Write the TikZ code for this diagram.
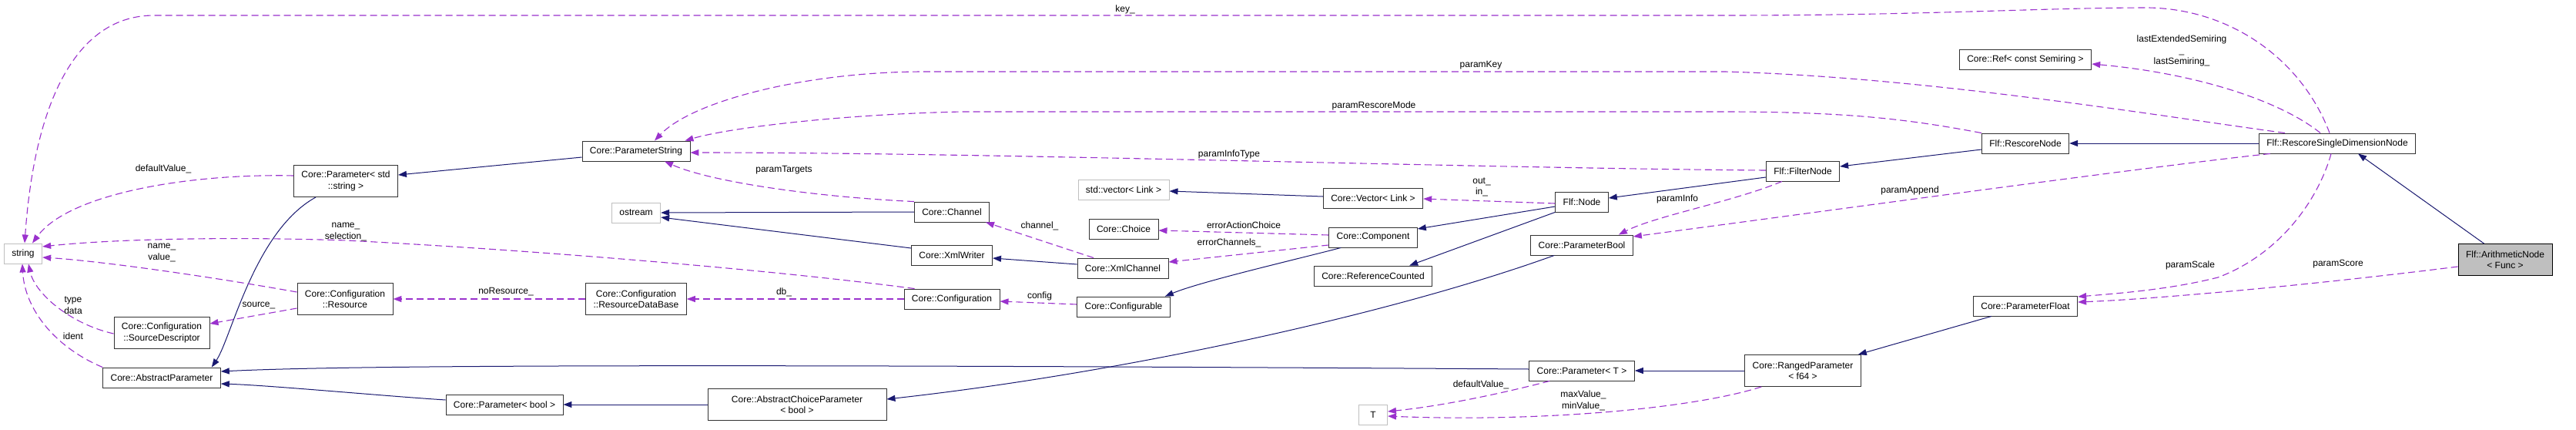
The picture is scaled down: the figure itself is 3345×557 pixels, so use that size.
\documentclass[tikz,border=0pt]{standalone}
\usepackage{fontspec}
\usepackage{tikz}
\usetikzlibrary{arrows.meta}
\newfontfamily\dxfam{Liberation Sans}
\newcommand{\dxfont}{\dxfam\fontsize{12}{14.5}\selectfont}
\definecolor{edgeblue}{HTML}{191970}
\definecolor{edgeorchid}{HTML}{9A32CD}
\definecolor{boxgray}{HTML}{BFBFBF}
\tikzset{
  cls/.style={draw=black!80, line width=0.9pt, fill=white, font=\dxfont, inner xsep=10pt, inner ysep=2pt, minimum height=26pt, align=center},
  extcls/.style={cls, draw=boxgray},
  twoline/.style={minimum height=41pt},
  inherit/.style={edgeblue, line width=1pt, -{Triangle[length=11pt,width=8pt]}},
  member/.style={edgeorchid, line width=1.1pt, dash pattern=on 9pt off 5pt, -{Triangle[length=11pt,width=8pt]}},
  elabel/.style={font=\dxfont, align=center, inner sep=0pt}
}

\begin{document}
\begin{tikzpicture}[x=1pt, y=-1pt]
  \fill[white] (0,0) rectangle (3345,557);
  \useasboundingbox (0,0) rectangle (3345,557);

  % classes
  \node[extcls] (str) at (30,329) {string};
  \node[cls, twoline] (pstr) at (449,235) {Core::Parameter< std\\::string >};
  \node[cls] (absp) at (210,490) {Core::AbstractParameter};
  \node[cls, twoline] (srcd) at (210,432) {Core::Configuration\\::SourceDescriptor};
  \node[cls, twoline] (res) at (448,388) {Core::Configuration\\::Resource};
  \node[cls] (pstring) at (826,196) {Core::ParameterString};
  \node[extcls] (ostr) at (826,276) {ostream};
  \node[cls, twoline] (rdb) at (826,388) {Core::Configuration\\::ResourceDataBase};
  \node[cls] (pbool) at (655,525) {Core::Parameter< bool >};
  \node[cls, twoline, minimum width=232pt] (acp) at (1035,525) {Core::AbstractChoiceParameter\\< bool >};
  \node[cls] (chan) at (1236,275) {Core::Channel};
  \node[cls] (xw) at (1236,331) {Core::XmlWriter};
  \node[cls] (xch) at (1458,348) {Core::XmlChannel};
  \node[cls] (conf) at (1236,388) {Core::Configuration};
  \node[cls] (cfgb) at (1459,398) {Core::Configurable};
  \node[cls] (choice) at (1459,297) {Core::Choice};
  \node[extcls] (svec) at (1459,246) {std::vector< Link >};
  \node[cls] (cvec) at (1783,257) {Core::Vector< Link >};
  \node[cls] (comp) at (1783,308) {Core::Component};
  \node[cls] (refc) at (1783,358) {Core::ReferenceCounted};
  \node[cls] (fnode) at (2054,262) {Flf::Node};
  \node[cls] (parbool) at (2054,318) {Core::ParameterBool};
  \node[cls] (paramT) at (2054,481) {Core::Parameter< T >};
  \node[extcls, minimum width=37pt] (tT) at (1783,538) {T};
  \node[cls] (filt) at (2341,222) {Flf::FilterNode};
  \node[cls] (resc) at (2630,186) {Flf::RescoreNode};
  \node[cls] (sref) at (2630,77) {Core::Ref< const Semiring >};
  \node[cls, twoline] (ranged) at (2341,481) {Core::RangedParameter\\< f64 >};
  \node[cls] (pfloat) at (2630,397) {Core::ParameterFloat};
  \node[cls] (rsdn) at (3035,186) {Flf::RescoreSingleDimensionNode};
  \node[cls, twoline, fill=boxgray, draw=black] (arith) at (3253,337) {Flf::ArithmeticNode\\< Func >};

  % inheritance
  \draw[inherit] ([yshift=-8pt]pstring.west) -- ([yshift=8pt]pstr.east);
  \draw[inherit] ([xshift=29pt]pstr.south west) .. controls (330,300) and (300,440) .. ([xshift=-12pt]absp.north east);
  \draw[inherit] ([yshift=2pt]paramT.west) .. controls (900,472) and (450,474) .. ([yshift=8pt]absp.east);
  \draw[inherit] ([yshift=6pt]pbool.west) .. controls (500,514) and (350,500) .. ([yshift=-8pt]absp.east);
  \draw[inherit] (acp.west) -- (pbool.east);
  \draw[inherit] ([xshift=31pt]parbool.south west) .. controls (1800,410) and (1450,485) .. ([yshift=7pt]acp.east);
  \draw[inherit] (chan.west) -- (ostr.east);
  \draw[inherit] ([yshift=9pt]xw.west) -- ([yshift=-6pt]ostr.east);
  \draw[inherit] ([yshift=5pt]xch.west) -- ([yshift=-4pt]xw.east);
  \draw[inherit] ([xshift=16pt]comp.south west) .. controls (1690,335) and (1560,365) .. ([xshift=-7pt]cfgb.north east);
  \draw[inherit] ([yshift=-6pt]fnode.west) -- ([yshift=11pt]comp.east);
  \draw[inherit] (fnode.south west) -- ([xshift=-30pt]refc.north east);
  \draw[inherit] ([yshift=-8pt]filt.west) -- ([yshift=5pt]fnode.east);
  \draw[inherit] ([yshift=-8pt]resc.west) -- ([yshift=6pt]filt.east);
  \draw[inherit] (rsdn.west) -- (resc.east);
  \draw[inherit] ([xshift=34pt]arith.north west) -- ([xshift=27pt]rsdn.south);
  \draw[inherit] (ranged.west) -- (paramT.east);
  \draw[inherit] ([xshift=24pt]pfloat.south west) -- ([xshift=-4pt]ranged.north east);
  \draw[inherit] ([yshift=2pt]cvec.west) -- ([yshift=-2pt]svec.east);

  % members
  \draw[member] ([xshift=-10pt]rsdn.north) .. controls (2990,80) and (2900,12) .. (2790,10)
     .. controls (2650,10) and (2500,20) .. (2240,20) -- (200,20) .. controls (100,20) and (45,130) .. ([xshift=2pt]str.north);
  \draw[member] ([xshift=-22pt]rsdn.north) .. controls (2960,130) and (2850,95) .. ([yshift=-6pt]sref.east);
  \draw[member] ([xshift=-68pt]rsdn.north) .. controls (2800,150) and (2500,100) .. (2240,93)
     -- (1200,93) .. controls (1050,93) and (900,130) .. ([xshift=24pt]pstring.north);
  \draw[member] (resc.north west) .. controls (2480,155) and (2400,145) .. (2240,145)
     -- (1250,145) .. controls (1100,148) and (950,165) .. ([xshift=-7pt]pstring.north east);
  \draw[member] ([yshift=1pt]filt.west) .. controls (1900,218) and (1300,198) .. ([yshift=-2pt]pstring.east);
  \draw[member] (chan.north west) .. controls (1050,255) and (920,235) .. ([xshift=37pt]pstring.south);
  \draw[member] ([xshift=15pt]rsdn.south west) .. controls (2800,215) and (2400,270) .. ([yshift=11pt]parbool.east);
  \draw[member] ([xshift=21pt]filt.south west) .. controls (2250,262) and (2150,280) .. ([xshift=-19pt]parbool.north east);
  \draw[member] ([xshift=-8pt]rsdn.south) .. controls (3010,260) and (2960,330) .. (2880,360)
     .. controls (2820,375) and (2760,380) .. ([yshift=12pt]pfloat.east);
  \draw[member] ([yshift=-9pt]arith.west) .. controls (3000,370) and (2800,388) .. ([yshift=5pt]pfloat.east);
  \draw[member] ([xshift=27pt]paramT.south west) .. controls (1960,508) and (1880,526) .. ([yshift=4pt]tT.east);
  \draw[member] ([xshift=22pt]ranged.south west) .. controls (2200,530) and (2000,548) .. ([yshift=-2pt]tT.east);
  \draw[member] ([xshift=14pt]conf.north west) .. controls (1000,350) and (700,325) .. (450,312)
     .. controls (300,307) and (150,310) .. ([yshift=9pt]str.east);
  \draw[member] ([yshift=9pt]res.west) .. controls (250,355) and (120,338) .. ([yshift=-5pt]str.east);
  \draw[member] ([yshift=-1pt]srcd.west) .. controls (90,420) and (45,380) .. ([xshift=7pt]str.south);
  \draw[member] (absp.north west) .. controls (70,450) and (32,400) .. ([xshift=-1pt]str.south);
  \draw[member] ([yshift=7pt]pstr.west) .. controls (250,225) and (90,250) .. ([xshift=12pt]str.north);
  \draw[member] ([yshift=-12pt]res.west) -- ([yshift=12pt]srcd.east);
  \draw[member] (rdb.west) -- (res.east);
  \draw[member] (conf.west) -- (rdb.east);
  \draw[member] ([yshift=3pt]cfgb.west) -- ([yshift=-3pt]conf.east);
  \draw[member] ([xshift=-38pt]xch.north) -- ([xshift=44pt]chan.south);
  \draw[member] ([yshift=3pt]comp.west) -- ([yshift=-2pt]choice.east);
  \draw[member] ([yshift=-10pt]comp.west) -- ([yshift=8pt]xch.east);
  \draw[member] ([yshift=-2pt]fnode.west) -- ([yshift=-1pt]cvec.east);

  % edge labels
  \foreach \lx/\ly/\ltext/\lname in {
      1461/12/key\_/key, 2833/66/{lastExtendedSemiring\\\_\\lastSemiring\_}/semi,
      1923/85/paramKey/pkey, 1784/137/paramRescoreMode/pmode, 1596/200/paramInfoType/pitype,
      1018/221/paramTargets/ptarg, 2480/247/paramAppend/pappend, 2178/258/paramInfo/pinfo,
      2844/344/paramScale/pscale, 3036/343/paramScore/pscore, 1923/499/defaultValue\_/tdef,
      2056/520/{maxValue\_\\minValue\_}/minmax, 449/301/{name\_\\selection\_}/namesel,
      210/328/{name\_\\value\_}/nameval, 95/396/{type\\data}/typedata, 95/436/ident/ident,
      336/396/source\_/source, 212/219/defaultValue\_/sdef, 657/379/noResource\_/nores,
      1018/379/db\_/db, 1350/384/config/config, 1350/293/channel\_/channel,
      1615/292/errorActionChoice/erract, 1596/315/errorChannels\_/errchan, 1924/243/{out\_\\in\_}/outin}
    \node[elabel] (lbl-\lname) at (\lx,\ly) {\ltext};
\end{tikzpicture}
\end{document}
